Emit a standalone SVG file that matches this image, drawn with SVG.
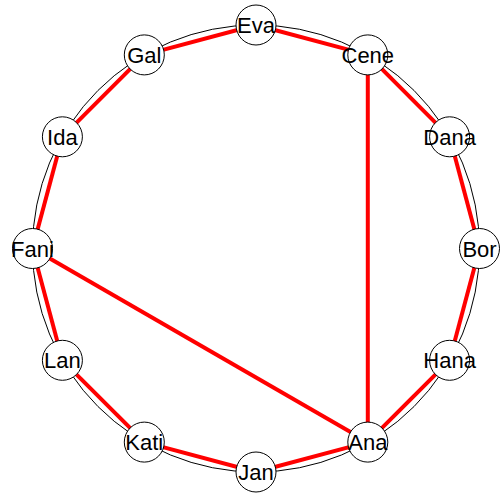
<svg xmlns="http://www.w3.org/2000/svg" width="502" height="497" viewBox="0 0 502 497">
<style>
.ring{fill:none;stroke:#000;stroke-width:1}
.e{stroke:#ff0000;stroke-width:4;fill:none}
.n circle{fill:#fff;stroke:#000;stroke-width:1}
.n text{font-family:"Liberation Sans",Arial,sans-serif;font-size:22px;fill:#000;text-anchor:middle}
</style>
<rect width="502" height="497" fill="#fff"/>
<circle class="ring" cx="256" cy="248.5" r="223.5"/>
<g id="edges">
<line class="e" x1="256" y1="25" x2="367.8" y2="54.9"/>
<line class="e" x1="367.8" y1="54.9" x2="449.6" y2="136.8"/>
<line class="e" x1="449.6" y1="136.8" x2="479.5" y2="248.5"/>
<line class="e" x1="479.5" y1="248.5" x2="449.6" y2="360.3"/>
<line class="e" x1="449.6" y1="360.3" x2="367.8" y2="442.1"/>
<line class="e" x1="367.8" y1="442.1" x2="256" y2="472"/>
<line class="e" x1="256" y1="472" x2="144.3" y2="442.1"/>
<line class="e" x1="144.3" y1="442.1" x2="62.4" y2="360.3"/>
<line class="e" x1="62.4" y1="360.3" x2="32.5" y2="248.5"/>
<line class="e" x1="32.5" y1="248.5" x2="62.4" y2="136.8"/>
<line class="e" x1="62.4" y1="136.8" x2="144.3" y2="54.9"/>
<line class="e" x1="144.3" y1="54.9" x2="256" y2="25"/>
<line class="e" x1="367.8" y1="54.9" x2="367.8" y2="442.1"/>
<line class="e" x1="32.5" y1="248.5" x2="367.8" y2="442.1"/>
</g>
<g id="Eva" class="n"><circle cx="256" cy="25" r="20"/><text x="256" y="33">Eva</text></g>
<g id="Cene" class="n"><circle cx="367.8" cy="54.9" r="20"/><text x="367.8" y="62.9">Cene</text></g>
<g id="Dana" class="n"><circle cx="449.6" cy="136.8" r="20"/><text x="449.6" y="144.8">Dana</text></g>
<g id="Bor" class="n"><circle cx="479.5" cy="248.5" r="20"/><text x="479.5" y="256.5">Bor</text></g>
<g id="Hana" class="n"><circle cx="449.6" cy="360.3" r="20"/><text x="449.6" y="368.3">Hana</text></g>
<g id="Ana" class="n"><circle cx="367.8" cy="442.1" r="20"/><text x="367.8" y="450.1">Ana</text></g>
<g id="Jan" class="n"><circle cx="256" cy="472" r="20"/><text x="256" y="480">Jan</text></g>
<g id="Kati" class="n"><circle cx="144.3" cy="442.1" r="20"/><text x="144.3" y="450.1">Kati</text></g>
<g id="Lan" class="n"><circle cx="62.4" cy="360.3" r="20"/><text x="62.4" y="368.3">Lan</text></g>
<g id="Fani" class="n"><circle cx="32.5" cy="248.5" r="20"/><text x="32.5" y="256.5">Fani</text></g>
<g id="Ida" class="n"><circle cx="62.4" cy="136.8" r="20"/><text x="62.4" y="144.8">Ida</text></g>
<g id="Gal" class="n"><circle cx="144.3" cy="54.9" r="20"/><text x="144.3" y="62.9">Gal</text></g>
</svg>
